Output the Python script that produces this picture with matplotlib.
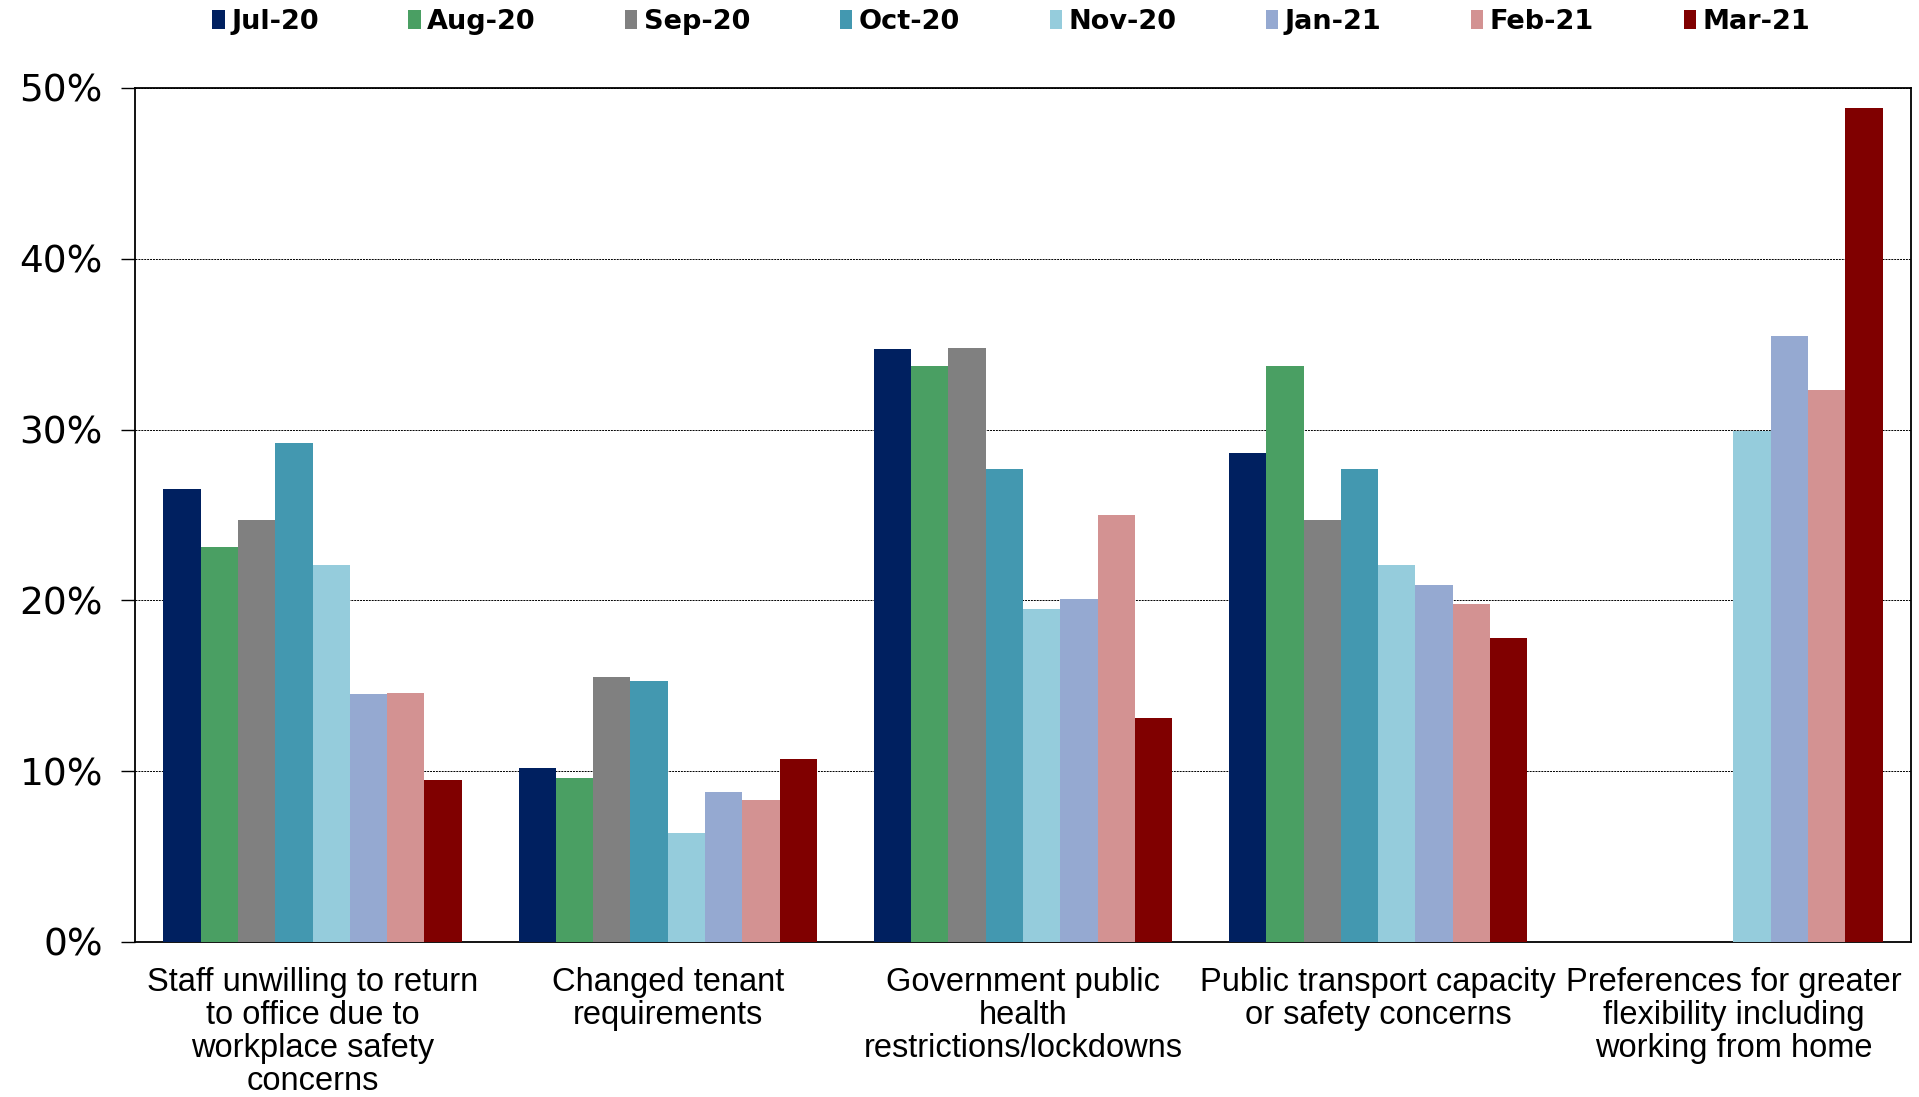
import numpy as np
import matplotlib
matplotlib.use("Agg")
from matplotlib import pyplot as plt
from matplotlib.ticker import PercentFormatter

categorias = [
    "Staff unwilling to return\nto office due to\nworkplace safety\nconcerns",
    "Changed tenant\nrequirements",
    "Government public\nhealth\nrestrictions/lockdowns",
    "Public transport capacity\nor safety concerns",
    "Preferences for greater\nflexibility including\nworking from home",
]
meses = ["Jul-20", "Aug-20", "Sep-20", "Oct-20", "Nov-20", "Jan-21", "Feb-21", "Mar-21"]
colores = ["#002060", "#4a9f63", "#808080", "#4398b0", "#95ccdc", "#95a9d1", "#d39292", "#800000"]

# valores en %, una lista por mes (nan = sin dato)
jul20 = [26.5, 10.2, 34.7, 28.6, np.nan]
aug20 = [23.1, 9.6, 33.7, 33.7, np.nan]
sep20 = [24.7, 15.5, 34.8, 24.7, np.nan]
oct20 = [29.2, 15.3, 27.7, 27.7, np.nan]
nov20 = [22.1, 6.4, 19.5, 22.1, 29.9]
jan21 = [14.5, 8.8, 20.1, 20.9, 35.5]
feb21 = [14.6, 8.3, 25.0, 19.8, 32.3]
mar21 = [9.5, 10.7, 13.1, 17.8, 48.8]
series = [jul20, aug20, sep20, oct20, nov20, jan21, feb21, mar21]

fig = plt.figure(figsize=(19.19, 10.97), dpi=100)
ax = fig.add_axes([0.0703, 0.1413, 0.9255, 0.7785])

x = np.arange(len(categorias))
ancho = 0.105
for i, (vals, mes, c) in enumerate(zip(series, meses, colores)):
    ax.bar(x + (i - 3.5) * ancho, vals, ancho, color=c, label=mes, zorder=3)

ax.set_xlim(-0.5, len(categorias) - 0.5)
ax.set_ylim(0, 50)
ax.set_yticks(range(0, 51, 10))
ax.yaxis.set_major_formatter(PercentFormatter(decimals=0))
ax.grid(axis="y", color="black", linestyle=(0, (2, 1)), linewidth=0.7, zorder=0)

ax.set_xticks(x)
ax.set_xticklabels(categorias, fontsize=23.5, family="Liberation Sans", linespacing=1.08, va="top")
ax.tick_params(axis="x", length=0, pad=18)
ax.tick_params(axis="y", labelsize=27, length=10, width=1, pad=13, direction="out")
for s in ax.spines.values():
    s.set_linewidth(1.3)
    s.set_color("black")

leg = fig.legend(loc="center", bbox_to_anchor=(0.527, 0.98), ncol=8, frameon=False,
                 prop={"weight": "bold", "size": 19.5},
                 handlelength=0.45, handleheight=0.75, handletextpad=0.25, columnspacing=3.3)

fig.savefig("out.png", dpi=100)
